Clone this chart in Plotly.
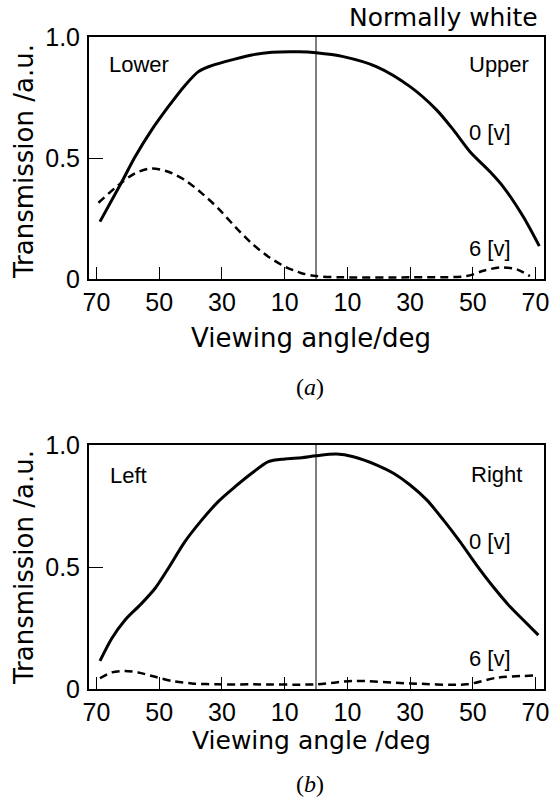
import plotly.graph_objects as go

# ---------------- data ----------------
# panel (a): lower (negative) / upper (positive) viewing angle, deg
angle_a_0v = [-68.9, -62.0, -57.7, -52.4, -47.1, -41.8, -37.5, -34.3, -29.0, -20.5, -14.1, -5.6, 0.0,
              8.7, 19.4, 30.0, 38.5, 43.8, 49.1, 55.5, 59.7, 66.1, 71.2]
trans_a_0v = [0.237, 0.400, 0.505, 0.616, 0.712, 0.800, 0.857, 0.877, 0.898, 0.926, 0.937, 0.939, 0.935,
              0.919, 0.877, 0.795, 0.698, 0.616, 0.526, 0.443, 0.381, 0.257, 0.136]
angle_a_6v = [-69.4, -63.0, -57.7, -52.4, -47.1, -41.8, -36.4, -31.2, -25.8, -20.5, -15.2, -9.9, -4.6, 0.0,
              8.6, 30.0, 48.0, 53.4, 58.7, 64.0, 68.2]
trans_a_6v = [0.315, 0.388, 0.437, 0.457, 0.443, 0.409, 0.354, 0.292, 0.216, 0.147, 0.092, 0.051, 0.024, 0.012,
              0.007, 0.007, 0.012, 0.034, 0.048, 0.040, 0.012]

# panel (b): left (negative) / right (positive) viewing angle, deg
angle_b_0v = [-68.9, -65.1, -60.9, -55.6, -51.3, -47.1, -41.8, -36.4, -31.2, -25.8, -20.5, -15.2, -9.9, -4.6, 0.0,
              6.6, 11.9, 19.4, 24.7, 30.0, 35.3, 40.6, 45.9, 51.2, 56.5, 61.9, 66.1, 70.9]
trans_b_0v = [0.115, 0.208, 0.283, 0.351, 0.413, 0.495, 0.604, 0.693, 0.768, 0.829, 0.884, 0.932, 0.943, 0.948, 0.956,
              0.963, 0.952, 0.918, 0.884, 0.836, 0.775, 0.693, 0.604, 0.508, 0.419, 0.337, 0.283, 0.221]
angle_b_6v = [-68.9, -65.1, -60.9, -56.7, -51.3, -46.0, -39.6, -31.2, -20.0, 0.0,
              11.9, 30.0, 48.0, 57.5, 69.3]
trans_b_6v = [0.044, 0.068, 0.074, 0.068, 0.050, 0.033, 0.023, 0.019, 0.019, 0.019,
              0.033, 0.023, 0.019, 0.046, 0.055]

x_tickvals = [-70, -50, -30, -10, 10, 30, 50, 70]
x_ticktext = ["70", "50", "30", "10", "10", "30", "50", "70"]
y_tickvals = [0, 0.5, 1.0]
y_ticktext = ["0", "0.5", "1.0"]

# ---------------- figure ----------------
W, H = 552, 799
def px(x):
    return x / W
def py(y):
    return 1 - y / H

SANS = "Liberation Sans, Arial, Helvetica, sans-serif"
WIDE = "DejaVu Sans, Verdana, sans-serif"
SERIF = "Liberation Serif, Times New Roman, serif"

fig = go.Figure()
solid = dict(color="black", width=3, shape="spline", smoothing=0.8)
dashed = dict(color="black", width=2.5, dash="8px,5px", shape="spline", smoothing=0.8)

fig.add_trace(go.Scatter(x=angle_a_0v, y=trans_a_0v, mode="lines", line=solid, xaxis="x", yaxis="y", name="0 [v]"))
fig.add_trace(go.Scatter(x=angle_a_6v, y=trans_a_6v, mode="lines", line=dashed, xaxis="x", yaxis="y", name="6 [v]"))
fig.add_trace(go.Scatter(x=angle_b_0v, y=trans_b_0v, mode="lines", line=solid, xaxis="x2", yaxis="y2", name="0 [v]"))
fig.add_trace(go.Scatter(x=angle_b_6v, y=trans_b_6v, mode="lines", line=dashed, xaxis="x2", yaxis="y2", name="6 [v]"))

xrange_ = [-72.4, 72.7]
common_x = dict(range=xrange_, tickvals=x_tickvals, ticktext=x_ticktext, ticks="inside", ticklen=12,
                tickwidth=1.2, tickcolor="black", showline=True, linecolor="black", linewidth=2, mirror=True,
                showgrid=False, zeroline=False, tickfont=dict(family=SANS, size=25, color="black"),
                domain=[px(89), px(544)], ticklabelstandoff=0, automargin=False)
common_y = dict(range=[0, 1.0], tickvals=y_tickvals, ticktext=y_ticktext, ticks="inside", ticklen=14,
                tickwidth=1.2, tickcolor="black", showline=True, linecolor="black", linewidth=2, mirror=True,
                showgrid=False, zeroline=False, tickfont=dict(family=SANS, size=25, color="black"),
                ticklabelstandoff=2, automargin=False)

fig.update_layout(
    template="none",
    width=W, height=H,
    margin=dict(l=0, r=0, t=0, b=0, pad=0),
    paper_bgcolor="white", plot_bgcolor="white",
    showlegend=False,
    xaxis=dict(**common_x, anchor="y"),
    yaxis=dict(**common_y, anchor="x", domain=[py(279), py(37)]),
    xaxis2=dict(**common_x, anchor="y2"),
    yaxis2=dict(**common_y, anchor="x2", domain=[py(689), py(445)]),
)

# centre (normal incidence) lines
for xr, yr in (("x", "y"), ("x2", "y2")):
    fig.add_shape(type="line", xref=xr, yref=yr + " domain", x0=0, x1=0, y0=0, y1=1,
                  line=dict(color="black", width=1))

def ann(text, x, y, size=22, xanchor="left", family=SANS, angle=0):
    fig.add_annotation(text=text, x=px(x), y=py(y), xref="paper", yref="paper", showarrow=False,
                       xanchor=xanchor, yanchor="middle", textangle=angle,
                       font=dict(family=family, size=size, color="black"))

ann("Normally white", 540, 18, size=25, xanchor="right", family=WIDE)
ann("Lower", 107, 64)
ann("Upper", 531, 64, xanchor="right")
ann("0 [v]", 467, 132)
ann("6 [v]", 467, 248)
ann("Left", 108, 475)
ann("Right", 524, 474, xanchor="right")
ann("0 [v]", 467, 541)
ann("6 [v]", 467, 658)

ann("Viewing angle/deg", 311, 338, size=26, xanchor="center", family=WIDE)
ann("Viewing angle /deg", 311, 740, size=25, xanchor="center", family=WIDE)
ann("Transmission /a.u.", 24, 162, size=26, xanchor="center", angle=-90, family=WIDE)
ann("Transmission /a.u.", 24, 568, size=26, xanchor="center", angle=-90, family=WIDE)
ann("(<i>a</i>)", 310, 387, size=24, xanchor="center", family=SERIF)
ann("(<i>b</i>)", 310, 784, size=24, xanchor="center", family=SERIF)

fig.write_html("out.html", config={"displayModeBar": False},
               post_script="document.body.style.margin='0';document.body.style.overflow='hidden';")
